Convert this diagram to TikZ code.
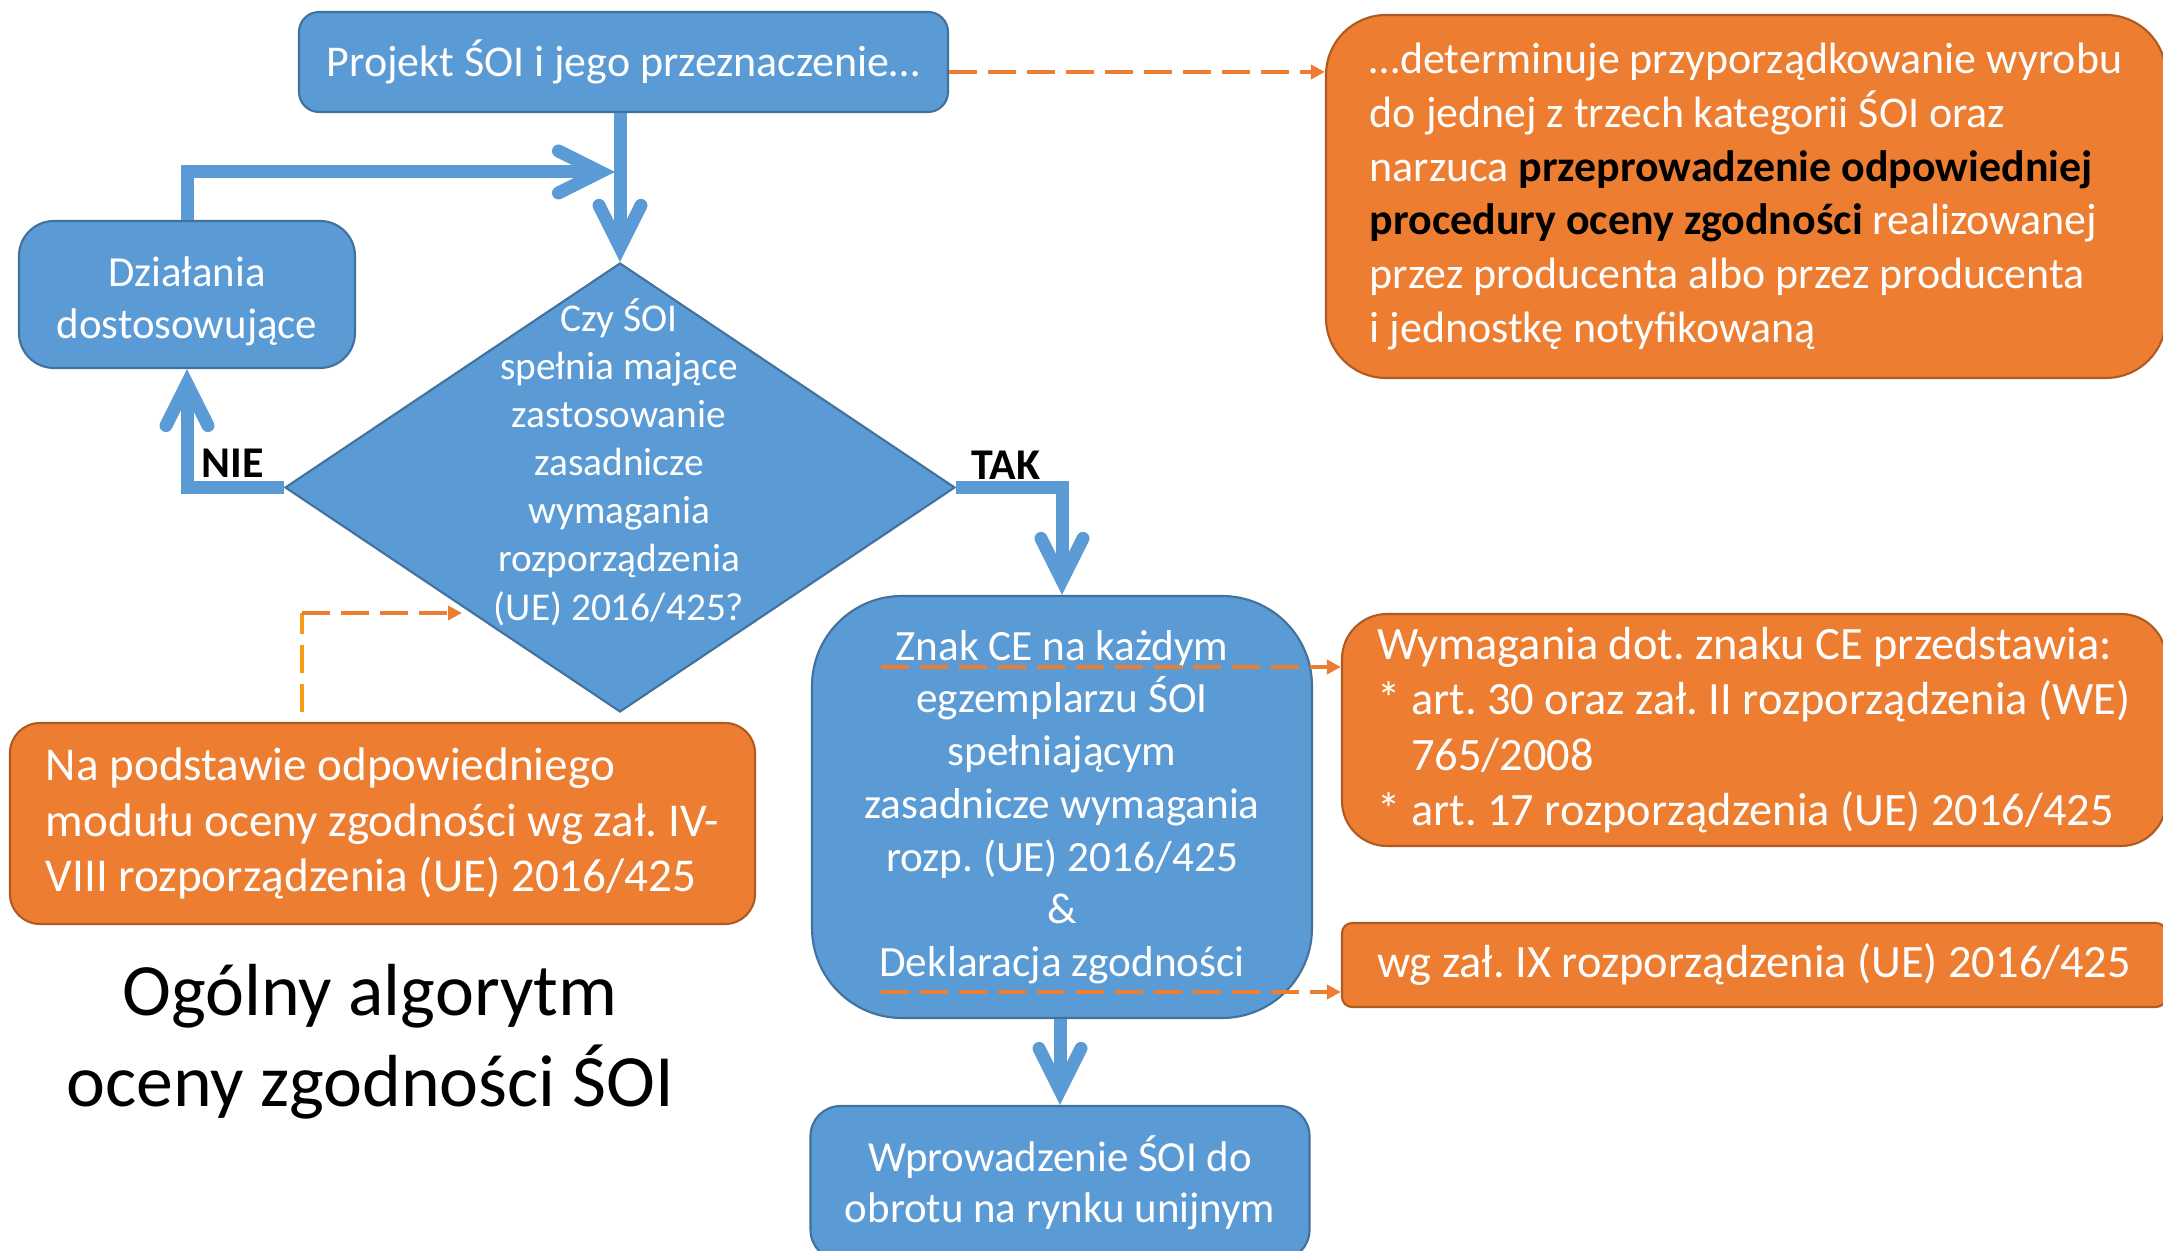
\documentclass[tikz,border=0pt]{standalone}
\usepackage{fontspec}
\setmainfont{Carlito}
\usetikzlibrary{positioning,calc,shapes.geometric,arrows.meta}
\definecolor{boxblue}{HTML}{5B9BD5}
\definecolor{edgeblue}{HTML}{41719C}
\definecolor{boxorange}{HTML}{ED7D31}
\definecolor{edgeorange}{HTML}{AE5A21}
\definecolor{hintorange}{HTML}{F59B14}
\frenchspacing

\begin{document}
\begin{tikzpicture}[
    every node/.style={inner sep=0pt, font=\fontsize{12.5}{15.3}\selectfont},
    bluebox/.style={draw=edgeblue, line width=0.6pt, fill=boxblue, text=white, align=center},
    orangebox/.style={draw=edgeorange, line width=0.6pt, fill=boxorange, text=white, align=left},
    flow/.style={draw=boxblue, line width=3.7pt,
      -{Straight Barb[length=0.42cm, width=0.42cm, line cap=round, line join=miter]}},
    hint/.style={draw=boxorange, line width=1pt, dash pattern=on 0.28cm off 0.11cm,
      -{Triangle[length=0.14cm, width=0.14cm]}},
    answer/.style={font=\fontsize{12.5}{15}\selectfont\bfseries}]
  \useasboundingbox (0,0) rectangle (21.63,12.5);
  \clip (0,0) rectangle (21.63,12.5);

  \node[bluebox, rounded corners=0.2cm, minimum width=6.49cm, minimum height=1.0cm] (proj) at (6.235,11.88)
    {Projekt ŚOI i jego przeznaczenie…};
  \node[orangebox, rounded corners=0.6cm, minimum width=8.40cm, minimum height=3.63cm] (det) at (17.46,10.535)
    {…determinuje przyporządkowanie wyrobu\\do jednej z trzech kategorii ŚOI oraz\\narzuca {\color{black}\bfseries przeprowadzenie odpowiedniej}\\{\color{black}\bfseries procedury oceny zgodności} realizowanej\\przez producenta albo przez producenta\\i jednostkę notyfikowaną};
  \node[bluebox, rounded corners=0.35cm, minimum width=3.36cm, minimum height=1.47cm,
    font=\fontsize{12.2}{14.8}\selectfont] (dz) at (1.87,9.555) {\rule{0pt}{0.44cm}Działania\\dostosowujące};

  \node[diamond, draw=edgeblue, fill=boxblue, line width=0.6pt, minimum width=6.70cm, minimum height=4.49cm] (q) at (6.20,7.625) {};
  \node[text=white, align=center, font=\fontsize{11.2}{13.7}\selectfont] (qt) at (6.19,7.88)
    {Czy ŚOI\\spełnia mające\\zastosowanie\\zasadnicze\\wymagania\\rozporządzenia\\(UE) 2016/425?};

  \node[bluebox, rounded corners=0.9cm, minimum width=5.0cm, minimum height=4.22cm,
    font=\fontsize{12.3}{15}\selectfont] (znak) at (10.62,4.43)
    {Znak CE na każdym\\egzemplarzu ŚOI\\spełniającym\\zasadnicze wymagania\\rozp. (UE) 2016/425\\\&\\Deklaracja zgodności};
  \node[orangebox, rounded corners=0.45cm, minimum width=8.24cm, minimum height=2.32cm,
    font=\fontsize{13.2}{15.8}\selectfont] (wym) at (17.54,5.20)
    {Wymagania dot. znaku CE przedstawia:\\* art. 30 oraz zał. II rozporządzenia (WE)\\\phantom{* }765/2008\\* art. 17 rozporządzenia (UE) 2016/425};
  \node[orangebox, rounded corners=0.1cm, minimum width=8.24cm, minimum height=0.84cm,
    font=\fontsize{13.2}{15.8}\selectfont] (wg) at (17.54,2.85) {wg zał. IX rozporządzenia (UE) 2016/425};
  \node[orangebox, rounded corners=0.3cm, minimum width=7.45cm, minimum height=2.01cm,
    font=\fontsize{13.4}{15.8}\selectfont] (nap) at (3.825,4.265)
    {Na podstawie odpowiedniego\\modułu oceny zgodności wg zał. IV-\\VIII rozporządzenia (UE) 2016/425};
  \node[bluebox, rounded corners=0.3cm, minimum width=4.99cm, minimum height=1.54cm,
    font=\fontsize{12.2}{14.5}\selectfont] (wpr) at (10.60,0.67) {Wprowadzenie ŚOI do\\obrotu na rynku unijnym};

  \node[align=center, font=\fontsize{21}{26}\selectfont] (title) at (3.70,2.08) {Ogólny algorytm\\oceny zgodności ŚOI};

  \node[answer] (nie) at (2.33,7.87) {NIE};
  \node[answer] (tak) at (10.06,7.85) {TAK};

  \coordinate (join) at (6.15,10.78);
  \draw[flow] (proj.south -| q.north) -- (q.north);
  \draw[flow] (dz.north) |- (join);
  \draw[flow] (q.west) -| (dz.south);
  \draw[flow] (q.east) -| (znak.north);
  \draw[flow] (znak.south -| wpr.north) -- (wpr.north);

  \draw[hint] ([yshift=-0.1cm]proj.east) -- ([yshift=-0.1cm]proj.east -| det.west);
  \coordinate (u1) at (8.81,5.83);
  \coordinate (u2) at (8.81,2.58);
  \draw[hint] (u1) -- (u1 -| wym.west);
  \draw[hint] (u2) -- (u2 -| wg.west);
  \coordinate (bend) at (3.02,6.37);
  \coordinate (tipq) at (4.62,6.37);
  \draw[hint, draw=hintorange, -] ([yshift=0.1cm]nap.north -| bend) -- (bend);
  \draw[hint] (bend) -- (tipq);
\end{tikzpicture}
\end{document}
